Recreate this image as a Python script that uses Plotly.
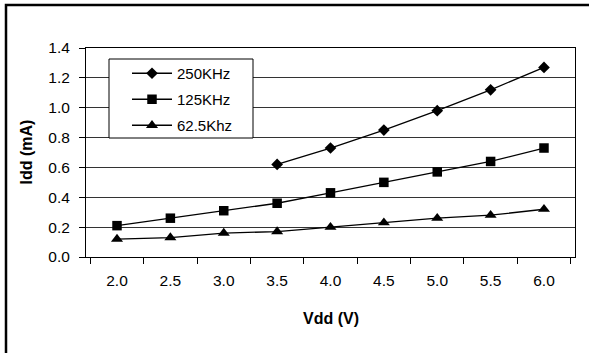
import plotly.graph_objects as go

categories = ["2.0", "2.5", "3.0", "3.5", "4.0", "4.5", "5.0", "5.5", "6.0"]
x_250 = ["3.5", "4.0", "4.5", "5.0", "5.5", "6.0"]
idd_250 = [0.62, 0.73, 0.85, 0.98, 1.12, 1.27]
idd_125 = [0.21, 0.26, 0.31, 0.36, 0.43, 0.50, 0.57, 0.64, 0.73]
idd_62 = [0.12, 0.13, 0.16, 0.17, 0.20, 0.23, 0.26, 0.28, 0.32]
y_ticks = [0.0, 0.2, 0.4, 0.6, 0.8, 1.0, 1.2, 1.4]
y_ticklabels = ["0.0", "0.2", "0.4", "0.6", "0.8", "1.0", "1.2", "1.4"]

W, H = 589, 353
L, R, T, B = 86, 14, 48, 96
pw, ph = W - L - R, H - T - B

def px(x):
    return (x - L) / pw

def py(y):
    return (H - B - y) / ph

FONT = "Liberation Sans, Arial, sans-serif"

fig = go.Figure()
line = dict(color="black", width=1.3)
fig.add_trace(go.Scatter(x=x_250, y=idd_250, name="250KHz", mode="lines+markers",
                         line=line, legendgroup="a",
                         marker=dict(symbol="diamond", size=9, color="black")))
fig.add_trace(go.Scatter(x=categories, y=idd_125, name="125KHz", mode="lines+markers",
                         line=line, legendgroup="b",
                         marker=dict(symbol="square", size=9.5, color="black")))
fig.add_trace(go.Scatter(x=categories, y=idd_62, name="62.5Khz", mode="lines+markers",
                         line=line, legendgroup="c",
                         marker=dict(symbol="triangle-up", size=10.5, color="black")))

shapes = [
    # outer frame
    dict(type="rect", xref="paper", yref="paper",
         x0=px(6), x1=px(595), y0=py(360), y1=py(5),
         line=dict(color="black", width=2.5), fillcolor="rgba(0,0,0,0)", layer="above"),
    # legend box
    dict(type="rect", xref="paper", yref="paper",
         x0=px(109), x1=px(253), y0=py(138), y1=py(59),
         line=dict(color="black", width=1), fillcolor="white", layer="above"),
]

annotations = [
    dict(text="<b>Vdd (V)</b>", xref="paper", yref="paper", x=px(331), y=py(318),
         xanchor="center", yanchor="middle", showarrow=False,
         font=dict(size=16, family=FONT, color="black")),
    dict(text="<b>Idd (mA)</b>", xref="paper", yref="paper", x=px(26), y=py(152.5),
         xanchor="center", yanchor="middle", showarrow=False, textangle=-90,
         font=dict(size=16, family=FONT, color="black")),
]

fig.update_layout(
    width=W, height=H,
    margin=dict(l=L, r=R, t=T, b=B),
    paper_bgcolor="white", plot_bgcolor="white",
    font=dict(family=FONT, size=15, color="black"),
    showlegend=True,
    legend=dict(x=px(127), y=py(57), xanchor="left", yanchor="top",
                bgcolor="rgba(0,0,0,0)", borderwidth=0, itemwidth=40,
                tracegroupgap=3.5, font=dict(size=15, family=FONT)),
    shapes=shapes,
    annotations=annotations,
    xaxis=dict(type="category", categoryorder="array", categoryarray=categories,
               tickson="boundaries", ticks="outside", ticklen=6, tickcolor="black",
               showline=True, linecolor="black", linewidth=1, mirror=True,
               showgrid=False, zeroline=False, ticklabelstandoff=9,
               tickfont=dict(size=15.5, family=FONT)),
    yaxis=dict(range=[0, 1.4], tickvals=y_ticks, ticktext=y_ticklabels,
               ticks="outside", ticklen=6, tickcolor="black",
               showline=True, linecolor="black", linewidth=1, mirror=True,
               showgrid=True, gridcolor="#333333", gridwidth=1, zeroline=False,
               ticklabelstandoff=6,
               tickfont=dict(size=15.5, family=FONT)),
)

fig.write_html("out.html", config={"displayModeBar": False},
               post_script="document.body.style.margin='0px';document.body.style.overflow='hidden';")
